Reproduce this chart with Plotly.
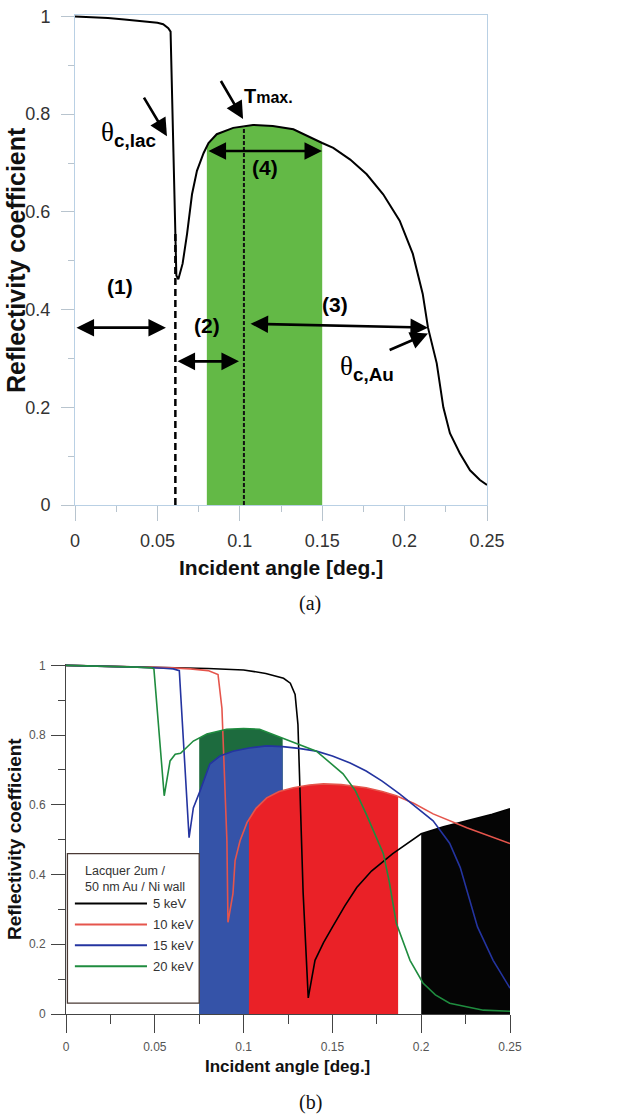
import numpy as np
import plotly.graph_objects as go

# ---------------- data (a) ----------------
a_angle = [0, 0.01, 0.02, 0.03, 0.04, 0.05, 0.0535, 0.0566, 0.058, 0.0598, 0.0615, 0.0627,
           0.0653, 0.068, 0.071, 0.074, 0.078, 0.081, 0.086, 0.096, 0.108, 0.12, 0.1325, 0.15,
           0.1567, 0.167, 0.177, 0.187, 0.197, 0.205, 0.211, 0.2142, 0.2195, 0.2235, 0.2275,
           0.2335, 0.2397, 0.2457, 0.25]
a_refl = [1.0, 0.999, 0.997, 0.994, 0.991, 0.987, 0.984, 0.976, 0.969, 0.72, 0.47, 0.462,
          0.494, 0.555, 0.636, 0.684, 0.72, 0.741, 0.759, 0.772, 0.778, 0.776, 0.769, 0.741,
          0.731, 0.707, 0.677, 0.636, 0.582, 0.514, 0.432, 0.363, 0.29, 0.2, 0.147,
          0.106, 0.071, 0.051, 0.041]
a_band = [0.08, 0.15]
theta_c_lac = 0.0609
t_max = 0.1025

# ---------------- data (b) ----------------
b5_angle = [0, 0.02, 0.04, 0.06, 0.08, 0.1, 0.1125, 0.1225, 0.1263, 0.129, 0.1306, 0.1335,
            0.1364, 0.1402, 0.145, 0.15, 0.157, 0.1637, 0.172, 0.184, 0.2, 0.2125, 0.2257,
            0.24, 0.25]
b5_refl = [1.0, 0.998, 0.996, 0.994, 0.991, 0.987, 0.977, 0.963, 0.949, 0.917, 0.83, 0.35,
           0.046, 0.154, 0.205, 0.249, 0.31, 0.363, 0.41, 0.46, 0.517, 0.537, 0.554,
           0.573, 0.589]
b10_angle = [0, 0.02, 0.04, 0.06, 0.07, 0.08, 0.0856, 0.0878, 0.0906, 0.0912, 0.094, 0.0952,
             0.098, 0.1019, 0.107, 0.113, 0.12, 0.128, 0.137, 0.145, 0.155, 0.169, 0.178,
             0.186, 0.196, 0.2067, 0.2257, 0.25]
b10_refl = [1.0, 0.998, 0.996, 0.993, 0.99, 0.985, 0.974, 0.877, 0.497, 0.263, 0.345, 0.44,
            0.497, 0.549, 0.59, 0.62, 0.638, 0.649, 0.657, 0.66, 0.658, 0.649, 0.638,
            0.626, 0.604, 0.574, 0.534, 0.489]
b15_angle = [0, 0.02, 0.04, 0.055, 0.0604, 0.0638, 0.0693, 0.0717, 0.0755, 0.081, 0.0867,
             0.094, 0.103, 0.113, 0.122, 0.131, 0.141, 0.15, 0.16, 0.169, 0.178, 0.188, 0.197,
             0.2067, 0.216, 0.222, 0.2317, 0.2405, 0.25]
b15_refl = [1.0, 0.998, 0.995, 0.992, 0.99, 0.985, 0.506, 0.591, 0.64, 0.717, 0.74,
            0.754, 0.763, 0.769, 0.767, 0.762, 0.754, 0.74, 0.72, 0.697, 0.668, 0.631, 0.595,
            0.554, 0.49, 0.42, 0.25, 0.154, 0.074]
b20_angle = [0, 0.02, 0.04, 0.048, 0.0495, 0.0553, 0.0586, 0.0615, 0.0645, 0.0717, 0.0793,
             0.0904, 0.1, 0.109, 0.122, 0.131, 0.141, 0.156, 0.163, 0.169, 0.1787, 0.182,
             0.186, 0.1937, 0.201, 0.208, 0.216, 0.235, 0.25]
b20_refl = [1.0, 0.998, 0.995, 0.993, 0.99, 0.626, 0.726, 0.745, 0.748, 0.783, 0.803,
            0.817, 0.819, 0.817, 0.791, 0.775, 0.754, 0.689, 0.64, 0.574, 0.46, 0.38,
            0.26, 0.154, 0.089, 0.055, 0.031, 0.011, 0.008]
b_series_names = ["5 keV", "10 keV", "15 keV", "20 keV"]
b_band_20 = [0.075, 0.122]
b_band_15 = [0.075, 0.122]
b_band_10 = [0.103, 0.187]
b_band_5 = [0.2, 0.25]

W, H = 621, 1117
SANS = "Liberation Sans, Arial, sans-serif"
SERIF = "Liberation Serif, Times New Roman, serif"


def band_polygon(xs, ys, lo, hi):
    xs = np.asarray(xs, float)
    ys = np.asarray(ys, float)
    inner = xs[(xs > lo) & (xs < hi)]
    px = np.concatenate([[lo], inner, [hi]])
    py = np.interp(px, xs, ys)
    return (np.concatenate([[lo], px, [hi]]).tolist(),
            np.concatenate([[0], py, [0]]).tolist())


fig = go.Figure()

# ---------------- panel (a) ----------------
px, py = band_polygon(a_angle, a_refl, *a_band)
fig.add_trace(go.Scatter(x=px, y=py, fill="toself", fillcolor="#63b946", mode="none",
                         xaxis="x", yaxis="y", showlegend=False))
fig.add_trace(go.Scatter(x=a_angle, y=a_refl, mode="lines", line=dict(color="black", width=2),
                         xaxis="x", yaxis="y", showlegend=False))
y_lac = float(np.interp(theta_c_lac, a_angle, a_refl))
y_tmax = float(np.interp(t_max, a_angle, a_refl))
fig.add_trace(go.Scatter(x=[theta_c_lac, theta_c_lac], y=[0, y_lac], mode="lines",
                         line=dict(color="black", width=2.5, dash="7px,4px"),
                         xaxis="x", yaxis="y", showlegend=False))
fig.add_trace(go.Scatter(x=[t_max, t_max], y=[0, y_tmax], mode="lines",
                         line=dict(color="#111", width=2, dash="4px,2px"),
                         xaxis="x", yaxis="y", showlegend=False))

annotations = []


def arrow(x, y, ax, ay, xr="x", yr="y", both=False, width=2.6):
    d = dict(x=x, y=y, ax=ax, ay=ay, xref=xr, yref=yr, axref=xr, ayref=yr, text="",
             showarrow=True, arrowhead=2, arrowsize=1.35, arrowwidth=width,
             arrowcolor="black", standoff=0, startstandoff=0)
    if both:
        d.update(arrowside="end+start", startarrowhead=2, startarrowsize=1.35)
    annotations.append(d)


def label(x, y, text, size=20, xanchor="center", xr="x", yr="y", font=SANS, color="black"):
    annotations.append(dict(x=x, y=y, xref=xr, yref=yr, text=text, showarrow=False,
                            xanchor=xanchor, yanchor="middle",
                            font=dict(family=font, size=size, color=color)))


# double arrows (1)-(4)
arrow(0.0552, 0.363, 0.0, 0.363, both=True)
arrow(0.0995, 0.294, 0.0613, 0.294, both=True)
arrow(0.2142, 0.363, 0.1056, 0.371, both=True)
arrow(0.1499, 0.7245, 0.0801, 0.7245, both=True)
label(0.0273, 0.447, "<b>(1)</b>", 21)
label(0.080, 0.368, "<b>(2)</b>", 21)
label(0.158, 0.410, "<b>(3)</b>", 21)
label(0.115, 0.690, "<b>(4)</b>", 21)
# pointing arrows
arrow(0.0558, 0.755, 0.0413, 0.837)
arrow(0.102, 0.790, 0.088, 0.871)
arrow(0.2142, 0.351, 0.19, 0.316)
theta = '<span style="font-family:Liberation Serif">θ</span>'
label(0.0504, 0.760, theta + '<sub><b>c,lac</b></sub>', 27, xanchor="right")
label(0.1013, 0.837, '<b>T<span style="font-size:16px">max.</span></b>', 20, xanchor="left")
label(0.1595, 0.280, theta + '<sub><b>c,Au</b></sub>', 27, xanchor="left")

# ---------------- panel (b) ----------------
b_x = [b5_angle, b10_angle, b15_angle, b20_angle]
b_y = [b5_refl, b10_refl, b15_refl, b20_refl]
line_colors = ["#000000", "#e5554c", "#2434a0", "#1f8c3f"]
for (xs, ys, band, col) in [(b20_angle, b20_refl, b_band_20, "#1d6b3e"),
                            (b15_angle, b15_refl, b_band_15, "#3553a8"),
                            (b10_angle, b10_refl, b_band_10, "#ea2127"),
                            (b5_angle, b5_refl, b_band_5, "#050505")]:
    px, py = band_polygon(xs, ys, *band)
    fig.add_trace(go.Scatter(x=px, y=py, fill="toself", fillcolor=col, mode="none",
                             xaxis="x2", yaxis="y2", showlegend=False))
for xs, ys, col, nm in zip(b_x, b_y, line_colors, b_series_names):
    fig.add_trace(go.Scatter(x=xs, y=ys, mode="lines", name=nm, line=dict(color=col, width=1.6),
                             xaxis="x2", yaxis="y2", showlegend=False))

shapes = []
# legend box
shapes.append(dict(type="rect", xref="x2", yref="y2", x0=0.0008, x1=0.075, y0=0.031, y1=0.46,
                   line=dict(color="#4a3a35", width=1.3), fillcolor="white", layer="above"))
legend_rows = [0.317, 0.257, 0.197, 0.137]
for yy, col, nm in zip(legend_rows, line_colors, b_series_names):
    shapes.append(dict(type="line", xref="x2", yref="y2", x0=0.005, x1=0.0456, y0=yy, y1=yy,
                       line=dict(color=col, width=2), layer="above"))
    label(0.048, yy, nm, 13, xanchor="left", xr="x2", yr="y2", color="#333")
label(0.0095, 0.41, "Lacquer 2um /", 12.5, xanchor="left", xr="x2", yr="y2", color="#333")
label(0.0095, 0.363, "50 nm Au / Ni wall", 12.5, xanchor="left", xr="x2", yr="y2", color="#333")


# axis titles & captions
def ptext(xpx, ypx, text, size, font=SANS, angle=0):
    annotations.append(dict(x=xpx / W, y=1 - ypx / H, xref="paper", yref="paper", text=text,
                            showarrow=False, textangle=angle, xanchor="center", yanchor="middle",
                            font=dict(family=font, size=size, color="#111")))


ptext(281, 567, "<b>Incident angle [deg.]</b>", 21)
ptext(16, 260, "<b>Reflectivity coefficient</b>", 25, angle=-90)
ptext(310, 603, "(a)", 20, font=SERIF)
ptext(287, 1066, "<b>Incident angle [deg.]</b>", 17)
ptext(14, 839, "<b>Reflectivity coefficient</b>", 19, angle=-90)
ptext(310, 1102, "(b)", 20, font=SERIF)

light = "#b9d0e4"
fig.update_layout(
    template="none",
    width=W, height=H, margin=dict(l=0, r=0, t=0, b=0, pad=0, autoexpand=False),
    paper_bgcolor="white", plot_bgcolor="white",
    font=dict(family=SANS),
    xaxis=dict(domain=[75 / W, 487 / W], anchor="y", range=[0, 0.25], tick0=0, dtick=0.05,
               automargin=False,
               ticks="outside", ticklen=15, tickcolor="#b8c4ce", showline=True, linecolor=light,
               mirror=True, showgrid=False, zeroline=False, ticklabelstandoff=4,
               tickfont=dict(size=18, color="#333"),
               minor=dict(ticks="outside", ticklen=6, dtick=0.025, tick0=0, tickcolor="#b8c4ce")),
    yaxis=dict(domain=[1 - 505 / H, 1 - 15 / H], anchor="x", range=[0, 1.003], tick0=0, dtick=0.2,
               automargin=False,
               ticks="outside", ticklen=13, tickcolor="#b8c4ce", showline=True, linecolor=light,
               mirror=True, showgrid=False, zeroline=False, ticklabelstandoff=7,
               tickfont=dict(size=18, color="#333"),
               minor=dict(ticks="outside", ticklen=6, dtick=0.1, tick0=0, tickcolor="#b8c4ce")),
    xaxis2=dict(domain=[66 / W, 510 / W], anchor="y2", range=[0, 0.25], tick0=0, dtick=0.05,
                automargin=False,
                ticks="outside", ticklen=18, tickcolor="#444", showline=True, linecolor="#444",
                showgrid=False, zeroline=False, ticklabelstandoff=4,
                tickfont=dict(size=12, color="#555"),
                minor=dict(ticks="outside", ticklen=9, dtick=0.025, tick0=0, tickcolor="#444")),
    yaxis2=dict(domain=[1 - 1014 / H, 1 - 664 / H], anchor="x2", range=[0, 1.004], tick0=0,
                automargin=False,
                dtick=0.2, ticks="outside", ticklen=14, tickcolor="#444", showline=True,
                linecolor="#444", showgrid=False, zeroline=False, ticklabelstandoff=3,
                tickfont=dict(size=12, color="#555"),
                minor=dict(ticks="outside", ticklen=7, dtick=0.1, tick0=0, tickcolor="#444")),
    annotations=annotations, shapes=shapes, showlegend=False,
)

fig.write_html("out.html", config={"displayModeBar": False},
               post_script="document.body.style.margin='0';document.body.style.padding='0';")
